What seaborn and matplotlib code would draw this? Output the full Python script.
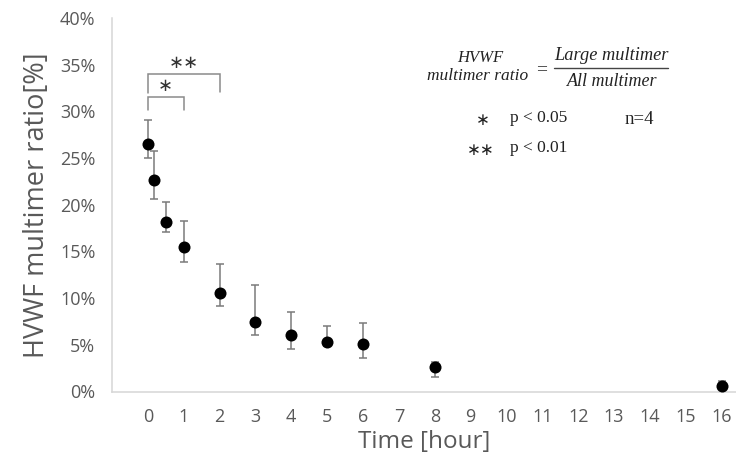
import numpy as np
import pandas as pd
import matplotlib
matplotlib.use("Agg")
import matplotlib.pyplot as plt
import seaborn as sns

# values (percent)
times      = [0, 1/6, 0.5, 1, 2, 3, 4, 5, 6, 8, 16]
mean_pct   = [26.5, 22.6, 18.1, 15.5, 10.5, 7.4, 6.1, 5.3, 5.1, 2.6, 0.6]
upper_pct  = [29.1, 25.8, 20.3, 18.3, 13.7, 11.4, 8.5, 7.0, 7.3, 3.2, 1.1]
lower_pct  = [25.0, 20.6, 17.1, 13.9, 9.2, 6.1, 4.6, 4.9, 3.6, 1.6, 0.3]
x_ticks    = list(range(0, 17))
y_ticks    = [0, 5, 10, 15, 20, 25, 30, 35, 40]
y_labels   = [f"{v}%" for v in y_ticks]

# significance brackets: (start, end, top, left drop, right drop, stars)
brackets   = [(0, 1, 31.5, 30.2, 30.1, "\u2217"),
              (0, 2, 34.0, 32.0, 32.1, "\u2217\u2217")]

df = pd.DataFrame({"time": times, "ratio": mean_pct,
                   "hi": upper_pct, "lo": lower_pct})

sns.set_theme(style="white")
plt.rcParams["font.family"] = ["Open Sans", "DejaVu Sans"]

fig = plt.figure(figsize=(7.36, 4.68), dpi=100)
ax = fig.add_axes([112 / 736, 1 - 391.5 / 468, 1 - 112 / 736, (391.5 - 18) / 468])

err = np.array([df["ratio"] - df["lo"], df["hi"] - df["ratio"]])
ax.errorbar(df["time"], df["ratio"], yerr=err, fmt="none", ecolor="#7a7a7a",
            elinewidth=1.1, capsize=3, capthick=1.1, zorder=2)
sns.scatterplot(data=df, x="time", y="ratio", color="black", s=75,
                edgecolor="black", linewidth=0, ax=ax, zorder=3)

for x0, x1, top, dl, dr, stars in brackets:
    ax.plot([x0, x0, x1, x1], [dl, top, top, dr], color="#8a8a8a", lw=1.1,
            solid_joinstyle="miter")
    ax.text((x0 + x1) / 2, top + 1.2, stars, ha="center", va="center",
            fontsize=13, color="#333333", family="DejaVu Sans")

ax.set_xlim(-1, 16.4)
ax.set_ylim(0, 40)
ax.set_xticks(x_ticks)
ax.set_yticks(y_ticks)
ax.set_yticklabels(y_labels)
ax.tick_params(axis="both", length=0, labelcolor="#595959")
ax.tick_params(axis="y", pad=12, labelsize=13)
ax.tick_params(axis="x", pad=12, labelsize=13)
ax.set_xlabel("Time [hour]", fontsize=17.5, color="#595959", labelpad=3)
ax.set_ylabel("HVWF multimer ratio[%]", fontsize=19.5, color="#595959", labelpad=6)

sns.despine(ax=ax)
for side in ["left", "bottom"]:
    ax.spines[side].set_color("#d6d6d6")
    ax.spines[side].set_linewidth(1.1)

# formula and legend text (pixel positions from the reference)
def px(x, y):
    return x / 736, 1 - y / 468

serif = dict(family="Liberation Serif", color="#222222")
fig.text(*px(480, 58), "HVWF", ha="center", va="center", fontsize=12,
         style="italic", **serif)
fig.text(*px(478, 76), "multimer ratio", ha="center", va="center",
         fontsize=12.5, style="italic", **serif)
fig.text(*px(542, 70), "=", ha="center", va="center", fontsize=14, **serif)
fig.text(*px(611, 55), "Large multimer", ha="center", va="center",
         fontsize=13.2, style="italic", **serif)
fig.text(*px(612, 81), "All multimer", ha="center", va="center",
         fontsize=13, style="italic", **serif)
fig.add_artist(plt.Line2D([554 / 736, 668 / 736], [1 - 68 / 468, 1 - 68 / 468],
                          color="#444444", lw=1.0))

fig.text(*px(483, 120), "\u2217", ha="center", va="center", fontsize=12,
         color="#222222", family="DejaVu Sans")
fig.text(*px(481, 150), "\u2217\u2217", ha="center", va="center", fontsize=12,
         color="#222222", family="DejaVu Sans")
fig.text(*px(510, 118), "p < 0.05", ha="left", va="center", fontsize=12.5, **serif)
fig.text(*px(510, 148), "p < 0.01", ha="left", va="center", fontsize=12.5, **serif)
fig.text(*px(625, 119), "n=4", ha="left", va="center", fontsize=13.5, **serif)

fig.savefig("out.png", dpi=100)
